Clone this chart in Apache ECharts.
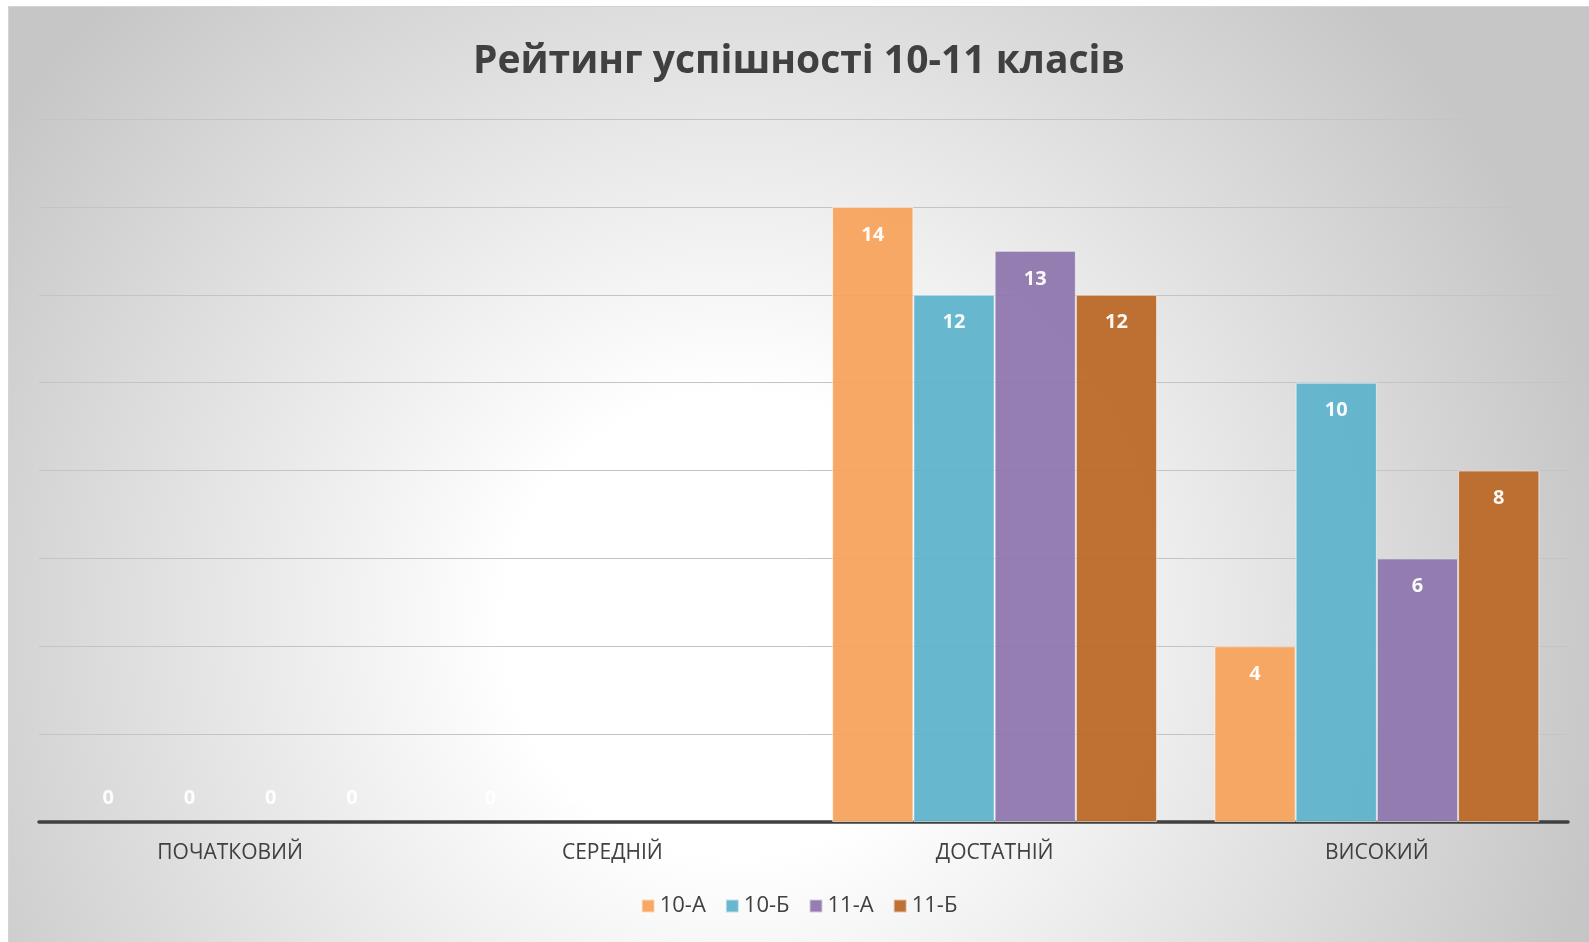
<!DOCTYPE html>
<html>
<head>
<meta charset="utf-8">
<script src="https://cdn.jsdelivr.net/npm/echarts@6/dist/echarts.min.js"></script>
<style>
	html, body { margin: 0; padding: 0; background: #fff; }
	#chart { position: absolute; left: 8px; top: 6px; width: 1580px; height: 935px; border-left: 1px solid #d4d4d4; border-top: 1px solid #d4d4d4; }
</style>
</head>
<body>
<div id="chart"></div>
<script>
const categories = ['ПОЧАТКОВИЙ', 'СЕРЕДНІЙ', 'ДОСТАТНІЙ', 'ВИСОКИЙ']
const seriesNames = ['10-А', '10-Б', '11-А', '11-Б']
const values10A = [0, 0, 14, 4]
const values10B = [0, 0, 12, 10]
const values11A = [0, 0, 13, 6]
const values11B = [0, 0, 12, 8]
const colors = ['#F7A35C', '#5FB3CB', '#8F77AD', '#BC6828']

const allValues = [values10A, values10B, values11A, values11B]

// нульові стовпці — підпис над віссю, без рамки
const toData = (arr) => arr.map(v => {
	if (v === 0) {
		return { value: v, itemStyle: { borderWidth: 0 }, label: { position: 'top', distance: 14 } }
	}
	return v
})

const myChart = echarts.init(document.getElementById('chart'))
myChart.setOption({
	backgroundColor: {
		type: 'radial',
		x: 0.46,
		y: 0.66,
		r: 0.95,
		colorStops: [
			{ offset: 0, color: '#ffffff' },
			{ offset: 0.26, color: '#ffffff' },
			{ offset: 1, color: '#c6c6c6' }
		]
	},
	title: {
		text: 'Рейтинг успішності 10-11 класів',
		left: 'center',
		top: 30,
		textStyle: {
			fontFamily: 'Open Sans',
			fontSize: 39,
			fontWeight: 'bold',
			color: '#404040'
		}
	},
	legend: {
		data: seriesNames,
		bottom: 20,
		left: 'center',
		icon: 'rect',
		itemWidth: 13,
		itemHeight: 13,
		itemGap: 19,
		textStyle: {
			fontFamily: 'Open Sans',
			fontSize: 22,
			color: '#404040'
		}
	},
	grid: {
		left: 30,
		right: 21,
		top: 112,
		bottom: 120
	},
	xAxis: {
		type: 'category',
		data: categories,
		axisTick: { show: false },
		axisLine: { lineStyle: { color: '#404040', width: 3.5 } },
		axisLabel: {
			margin: 21,
			fontFamily: 'Open Sans',
			fontSize: 21,
			color: '#404040'
		}
	},
	yAxis: {
		type: 'value',
		min: 0,
		max: 16,
		interval: 2,
		axisLabel: { show: false },
		axisLine: { show: false },
		axisTick: { show: false },
		splitLine: { lineStyle: { color: '#c4c4c4', width: 1 } }
	},
	series: seriesNames.map((name, i) => ({
		name: name,
		type: 'bar',
		data: toData(allValues[i]),
		barGap: '0%',
		barCategoryGap: '15%',
		itemStyle: {
			color: colors[i],
			opacity: 0.95,
			borderColor: 'rgba(255,255,255,0.6)',
			borderWidth: 1
		},
		label: {
			show: true,
			position: 'insideTop',
			distance: 18,
			fontFamily: 'Open Sans',
			fontSize: 20,
			fontWeight: 'bold',
			color: '#ffffff'
		}
	}))
})
</script>
</body>
</html>
